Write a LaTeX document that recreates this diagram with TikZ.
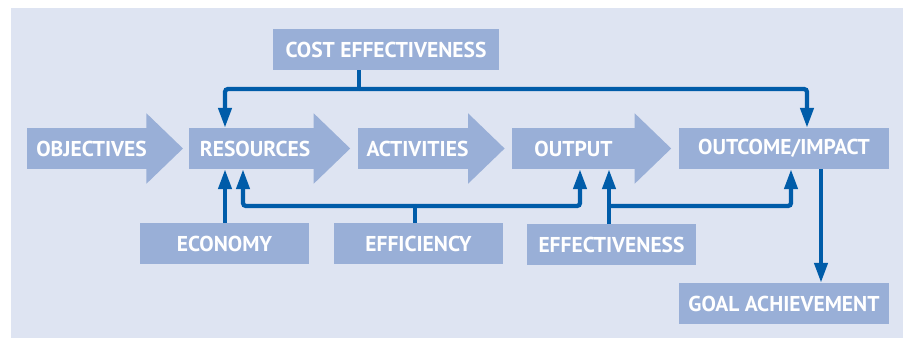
\documentclass[tikz,border=0pt]{standalone}
\usepackage{fontspec}
\setmainfont{PT Sans}
\usetikzlibrary{arrows.meta,calc}
\definecolor{bgc}{HTML}{DEE4F2}
\definecolor{boxc}{HTML}{99AFD7}
\definecolor{linec}{HTML}{005CA9}
\newcommand\headof[1]{\fill[boxc] ($(#1.north east)+(-0.5,-14.5)$) -- ($(#1.east)+(36,0)$) -- ($(#1.south east)+(-0.5,14.5)$) -- cycle;}
\tikzset{
  box/.style={fill=boxc, text=white, font=\fontsize{21.5}{24}\selectfont\bfseries, inner sep=0pt, minimum height=41pt},
  conn/.style={draw=linec, line width=4.3pt, rounded corners=3pt},
  tip/.style={-{Triangle[length=20pt,width=13pt]}}
}
\begin{document}
\begin{tikzpicture}[x=1pt,y=-1pt]
\useasboundingbox (0,0) rectangle (903,338);
\fill[bgc] (11,8) rectangle (903,338);
% flow nodes
\node[box, minimum width=114pt] (obj) at (87,148.5) {\hspace*{9pt}OBJECTIVES};
\headof{obj}
\node[box, minimum width=125pt] (res) at (251.5,148.5) {\hspace*{7pt}RESOURCES};
\headof{res}
\node[box, minimum width=110pt] (act) at (413,148.5) {\hspace*{9pt}ACTIVITIES};
\headof{act}
\node[box, minimum width=123pt] (outp) at (573.5,148.5) {OUTPUT};
\headof{outp}
\node[box, minimum width=210pt] (outc) at (784,148.5) {OUTCOME/IMPACT};
% other nodes
\node[box, minimum width=226pt] (cost) at (386,49.5) {COST EFFECTIVENESS};
\node[box, minimum width=169pt] (eco) at (224.5,243.5) {ECONOMY};
\node[box, minimum width=169pt] (effi) at (418.5,243.5) {EFFICIENCY};
\node[box, minimum width=169pt] (effe) at (611.5,244.5) {EFFECTIVENESS};
\node[box, minimum width=210pt] (goal) at (784,303.5) {GOAL ACHIEVEMENT};
% junction coordinates
\coordinate (c1) at (359,89);
\coordinate (cL) at (225,89);
\coordinate (cR) at (807,89);
\coordinate (e1) at (415,206);
\coordinate (e2) at (243,206);
\coordinate (e3) at (580,206);
\coordinate (f1) at (609,206);
\coordinate (f2) at (791,206);
\coordinate (g1) at (821,0);
% cost effectiveness
\draw[conn] (c1 |- cost.south) -- (c1);
\draw[conn,tip] (c1) -- (cL) -- (cL |- res.north);
\draw[conn,tip] (c1) -- (cR) -- (cR |- outc.north);
% economy
\draw[conn,tip] (cL |- eco.north) -- (cL |- res.south);
% efficiency
\draw[conn] (e1 |- effi.north) -- (e1);
\draw[conn,tip] (e1) -- (e2) -- (e2 |- res.south);
\draw[conn,tip] (e1) -- (e3) -- (e3 |- outp.south);
% effectiveness
\draw[conn,tip] (f1 |- effe.north) -- (f1 |- outp.south);
\draw[conn,tip] (f1) -- (f2) -- (f2 |- outc.south);
% goal
\draw[conn,tip] (g1 |- outc.south) -- (g1 |- goal.north);
\end{tikzpicture}
\end{document}
